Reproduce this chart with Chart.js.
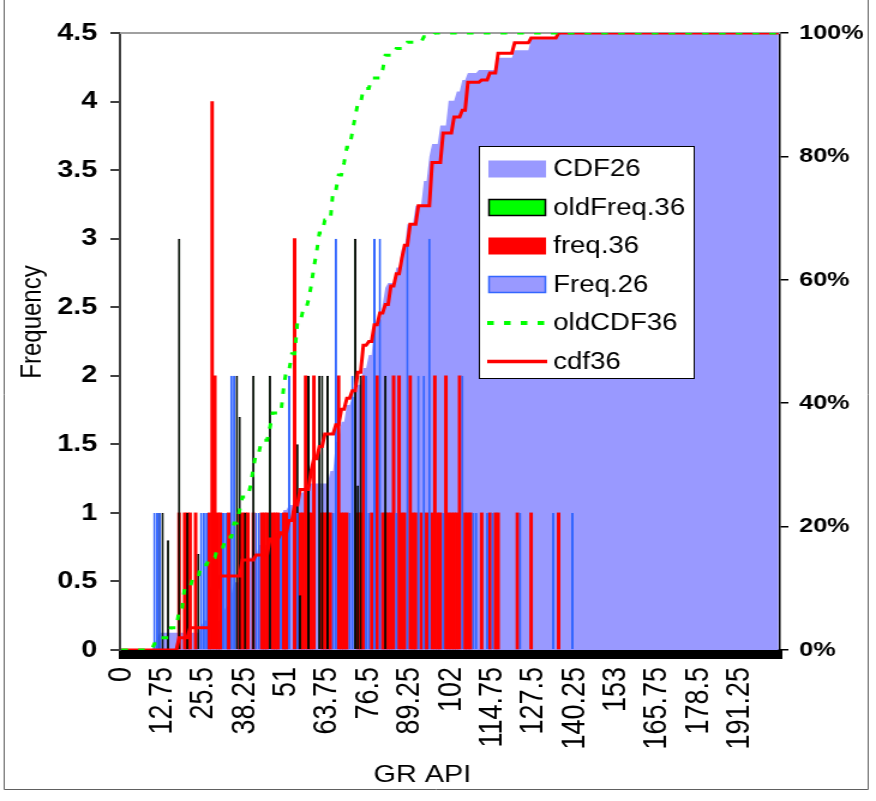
<!DOCTYPE html>
<html lang="en">
<head>
<meta charset="UTF-8">
<title>GR API</title>
<script src="https://cdn.jsdelivr.net/npm/chart.js@4"></script>
<style>
  html, body { margin: 0; padding: 0; background: #fff; }
</style>
</head>
<body>
<!-- drawn narrow and stretched sideways, like the original picture -->
<canvas id="chart" width="730" height="801" style="display:block;width:876px;height:801px"></canvas>
<script>
// bins of 0.85 API, 240 of them, a label every 15th bin
const binWidth = 0.85;
const binCount = 240;
const labelEvery = 15;
const xTickLabels = ['0', '12.75', '25.5', '38.25', '51', '63.75', '76.5', '89.25', '102',
    '114.75', '127.5', '140.25', '153', '165.75', '178.5', '191.25'];

// freq.36 (red bars): bin index -> count
const freq36Bins = [21, 23, 24, 25, 27, 32, 33, 34, 35, 36, 39, 43, 44, 45, 46, 48, 51, 52, 53, 55,
    56, 57, 59, 60, 63, 65, 66, 67, 68, 69, 70, 73, 74, 75, 76, 79, 80, 81, 82, 86,
    87, 88, 91, 93, 95, 96, 97, 98, 99, 101, 102, 103, 105, 106, 107, 109, 111, 113, 114, 115,
    116, 118, 119, 120, 121, 122, 123, 125, 126, 127, 131, 134, 136, 137, 144, 149, 159];
const freq36Counts = [1, 1, 1, 1, 1, 1, 4, 2, 1, 1, 1, 1, 1, 1, 1, 1, 1, 1, 1, 1,
    1, 1, 1, 1, 3, 1, 1, 2, 1, 1, 2, 1, 1, 1, 1, 2, 1, 1, 1, 1,
    1, 2, 1, 2, 1, 1, 1, 1, 2, 2, 1, 1, 2, 1, 1, 1, 1, 1, 2, 1,
    1, 2, 1, 1, 1, 1, 2, 1, 1, 1, 1, 1, 1, 1, 1, 1, 1];

// oldFreq.36 (green bars, black edge)
const oldFreq36Bins = [14, 15, 17, 21, 24, 28, 42, 43, 45, 48, 54, 64, 65, 68, 72, 73, 75, 85, 86, 87, 96];
const oldFreq36Counts = [1, 1, 0.8, 3, 1, 0.7, 2, 1.7, 1, 2, 2, 1.5, 0.4, 2, 2, 2, 2, 3, 1.2, 2, 2];

// Freq.26 (lavender bars, blue edge)
const freq26Bins = [12, 13, 14, 29, 30, 31, 37, 38, 40, 41, 49, 50, 58, 61, 64, 77, 78, 83, 84, 89,
    90, 92, 94, 100, 104, 108, 110, 112, 117, 124, 128, 129, 133, 135, 145, 157, 164];
const freq26Counts = [1, 1, 1, 1, 1, 1, 1, 1, 2, 2, 1, 1, 1, 2, 1, 1, 3, 1, 2, 2,
    1, 3, 3, 1, 3, 2, 2, 3, 1, 2, 1, 1, 1, 1, 1, 1, 1];

// cumulative curves: new level from this bin on (right axis, 0..1)
const cdf26Bins = [12, 13, 14, 29, 30, 37, 38, 40, 41, 44, 46, 50, 55, 58, 59, 61, 64, 67, 76, 78,
    80, 82, 84, 86, 88, 90, 92, 95, 96, 97, 100, 102, 104, 107, 110, 112, 113, 116, 119, 122,
    124, 126, 130, 137, 143, 149, 159];
const cdf26Vals = [0.01, 0.02, 0.028, 0.038, 0.048, 0.06, 0.07, 0.09, 0.11, 0.13, 0.15, 0.17, 0.19, 0.21, 0.227, 0.235, 0.255, 0.27, 0.29, 0.337,
    0.37, 0.397, 0.41, 0.43, 0.457, 0.478, 0.527, 0.56, 0.587, 0.595, 0.62, 0.65, 0.69, 0.72, 0.76, 0.80, 0.82, 0.85, 0.89, 0.905,
    0.924, 0.935, 0.94, 0.96, 0.972, 0.99, 1.0];

const oldCdf36Bins = [12, 14, 18, 21, 23, 26, 29, 32, 35, 38, 41, 43, 44, 47, 48, 49, 51, 54, 55, 59,
    60, 62, 64, 66, 68, 69, 70, 71, 72, 74, 77, 79, 81, 82, 84, 85, 86, 88, 91, 95,
    96, 100, 104, 110, 114];
const oldCdf36Vals = [0.01, 0.02, 0.036, 0.065, 0.10, 0.118, 0.138, 0.15, 0.167, 0.183, 0.206, 0.227, 0.248, 0.267, 0.295, 0.32, 0.34, 0.36, 0.384, 0.425,
    0.454, 0.48, 0.53, 0.55, 0.567, 0.59, 0.62, 0.645, 0.676, 0.697, 0.745, 0.77, 0.79, 0.815, 0.84, 0.864, 0.886, 0.91, 0.927, 0.94,
    0.964, 0.975, 0.985, 0.994, 1.0];

const cdf36Bins = [21, 25, 33, 36, 44, 49, 54, 58, 61, 63, 65, 69, 70, 72, 74, 78, 80, 82, 84, 86,
    88, 90, 92, 94, 96, 98, 100, 102, 103, 105, 108, 113, 117, 121, 124, 126, 131, 134, 137, 143,
    149, 159];
const cdf36Vals = [0.02, 0.036, 0.10, 0.12, 0.146, 0.154, 0.18, 0.19, 0.21, 0.235, 0.26, 0.29, 0.31, 0.33, 0.35, 0.365, 0.39, 0.408, 0.42, 0.45,
    0.494, 0.50, 0.527, 0.546, 0.56, 0.59, 0.61, 0.635, 0.656, 0.69, 0.72, 0.79, 0.838, 0.864, 0.875, 0.92, 0.924, 0.935, 0.967, 0.984,
    0.992, 1.0];

const binLabels = Array.from({ length: binCount }, (_, i) => String(+(i * binWidth).toFixed(2)));

// sparse counts -> one value per bin (empty bins stay null)
const barSeries = (bins, counts) => {
    const out = new Array(binCount).fill(null);
    bins.forEach((b, i) => { out[b] = counts[i]; });
    return out;
};

// cumulative levels hold until the next listed bin
const cumulativeSeries = (bins, vals) => {
    const out = [];
    let k = -1, level = 0;
    for (let i = 0; i < binCount; i++) {
        if (k + 1 < bins.length && bins[k + 1] === i) { k++; level = vals[k]; }
        out.push(level);
    }
    return out;
};

const FONT = "'Liberation Sans', Arial, sans-serif";
Chart.defaults.font.family = FONT;
Chart.defaults.color = '#000';

const legendRows = [
    { text: 'CDF26', kind: 'box', fill: '#9999FF', stroke: null },
    { text: 'oldFreq.36', kind: 'box', fill: '#00FF00', stroke: '#000' },
    { text: 'freq.36', kind: 'box', fill: '#FF0000', stroke: null },
    { text: 'Freq.26', kind: 'box', fill: '#9999FF', stroke: '#3366FF' },
    { text: 'oldCDF36', kind: 'line', color: '#00FF00', dash: [5.5, 8.5], width: 4 },
    { text: 'cdf36', kind: 'line', color: '#FF0000', dash: [], width: 3.5 }
];

// plot border, outer frame, axis titles and the legend inside the plot
const decorations = {
    id: 'decorations',
    beforeDatasetsDraw(chart) {
        const { ctx, chartArea: a } = chart;
        ctx.save();
        ctx.strokeStyle = '#a0a0a0';
        ctx.lineWidth = 2;
        ctx.beginPath();
        ctx.moveTo(a.left, a.top);
        ctx.lineTo(a.right, a.top);
        ctx.stroke();
        ctx.restore();
    },
    afterDraw(chart) {
        const { ctx } = chart;
        ctx.save();

        // outer frame (left, bottom, right)
        ctx.strokeStyle = '#606060';
        ctx.lineWidth = 1;
        ctx.beginPath();
        ctx.moveTo(3.5, 0);
        ctx.lineTo(3.5, 789.5);
        ctx.lineTo(723.5, 789.5);
        ctx.lineTo(723.5, 0);
        ctx.stroke();

        // axis titles
        ctx.fillStyle = '#000';
        ctx.font = `24px ${FONT}`;
        ctx.textAlign = 'center';
        ctx.textBaseline = 'middle';
        ctx.fillText('GR API', 352, 775);
        ctx.save();
        ctx.translate(27.5, 322);
        ctx.rotate(-Math.PI / 2);
        ctx.fillText('Frequency', 0, 0);
        ctx.restore();

        // legend
        const box = { x: 399.5, y: 146.5, w: 179, h: 232 };
        ctx.fillStyle = '#fff';
        ctx.fillRect(box.x, box.y, box.w, box.h);
        ctx.strokeStyle = '#000';
        ctx.lineWidth = 1;
        ctx.strokeRect(box.x, box.y, box.w, box.h);

        ctx.font = `23px ${FONT}`;
        ctx.textAlign = 'left';
        legendRows.forEach((row, i) => {
            const cy = 169 + i * 38.5;
            if (row.kind === 'box') {
                ctx.fillStyle = row.fill;
                ctx.fillRect(407, cy - 8.5, 48, 17);
                if (row.stroke) {
                    ctx.strokeStyle = row.stroke;
                    ctx.lineWidth = 1.5;
                    ctx.strokeRect(407.5, cy - 8, 47, 16);
                }
            } else {
                ctx.strokeStyle = row.color;
                ctx.lineWidth = row.width;
                ctx.setLineDash(row.dash);
                ctx.beginPath();
                ctx.moveTo(406, cy);
                ctx.lineTo(456, cy);
                ctx.stroke();
                ctx.setLineDash([]);
            }
            ctx.fillStyle = '#000';
            ctx.fillText(row.text, 461, cy + 1);
        });
        ctx.restore();
    }
};

new Chart(document.getElementById('chart'), {
    type: 'bar',
    data: {
        labels: binLabels,
        datasets: [
            {
                type: 'line',
                label: 'CDF26',
                data: cumulativeSeries(cdf26Bins, cdf26Vals),
                yAxisID: 'y2',
                fill: 'origin',
                backgroundColor: '#9999FF',
                borderWidth: 0,
                pointRadius: 0,
                tension: 0,
                order: 6
            },
            {
                label: 'freq.36',
                data: barSeries(freq36Bins, freq36Counts),
                yAxisID: 'y',
                backgroundColor: '#FF0000',
                borderWidth: 0,
                grouped: false,
                barPercentage: 1,
                categoryPercentage: 1,
                order: 5
            },
            {
                // narrow bars: the black edge covers the green fill, as in the original
                label: 'oldFreq.36',
                data: barSeries(oldFreq36Bins, oldFreq36Counts),
                yAxisID: 'y',
                backgroundColor: '#00FF00',
                borderColor: '#000',
                borderWidth: 1,
                grouped: false,
                barPercentage: 0.9,
                categoryPercentage: 1,
                order: 4
            },
            {
                label: 'Freq.26',
                data: barSeries(freq26Bins, freq26Counts),
                yAxisID: 'y',
                backgroundColor: '#9999FF',
                borderColor: '#3366FF',
                borderWidth: 1.2,
                grouped: false,
                barPercentage: 0.9,
                categoryPercentage: 1,
                order: 3
            },
            {
                type: 'line',
                label: 'cdf36',
                data: cumulativeSeries(cdf36Bins, cdf36Vals),
                yAxisID: 'y2',
                borderColor: '#FF0000',
                borderWidth: 3,
                pointRadius: 0,
                tension: 0,
                fill: false,
                order: 2
            },
            {
                type: 'line',
                label: 'oldCDF36',
                data: cumulativeSeries(oldCdf36Bins, oldCdf36Vals),
                yAxisID: 'y2',
                borderColor: '#00FF00',
                borderWidth: 3,
                borderDash: [5.5, 8.5],
                pointRadius: 0,
                tension: 0,
                fill: false,
                order: 1
            }
        ]
    },
    options: {
        responsive: false,
        animation: false,
        devicePixelRatio: 1,
        layout: { padding: { top: 33, left: 0, right: 0, bottom: 0 } },
        plugins: {
            legend: { display: false },
            tooltip: { enabled: false }
        },
        scales: {
            x: {
                z: 1,
                afterFit: (scale) => { scale.height = 151; },
                border: { color: '#000', width: 2 },
                grid: { drawOnChartArea: false, tickLength: 9, color: '#000', lineWidth: 3 },
                ticks: {
                    autoSkip: false,
                    minRotation: 90,
                    maxRotation: 90,
                    padding: 8,
                    font: { size: 27 },
                    callback: (value, index) => index % labelEvery === 0 ? xTickLabels[index / labelEvery] : ''
                }
            },
            y: {
                position: 'left',
                min: 0,
                max: 4.5,
                afterFit: (scale) => { scale.width = 100; },
                border: { color: '#404040', width: 2 },
                grid: { drawOnChartArea: false, tickLength: 8, color: '#404040', lineWidth: 2 },
                ticks: {
                    stepSize: 0.5,
                    padding: 11,
                    font: { size: 24, weight: 'bold' },
                    callback: (v) => String(v)
                }
            },
            y2: {
                position: 'right',
                min: 0,
                max: 1,
                afterFit: (scale) => { scale.width = 80; },
                border: { color: '#000', width: 1.5 },
                grid: { drawOnChartArea: false, tickLength: 7, color: '#000', lineWidth: 1.5 },
                ticks: {
                    stepSize: 0.2,
                    padding: 9,
                    font: { size: 21, weight: 'bold' },
                    callback: (v) => Math.round(v * 100) + '%'
                }
            }
        }
    },
    plugins: [decorations]
});
</script>
</body>
</html>
